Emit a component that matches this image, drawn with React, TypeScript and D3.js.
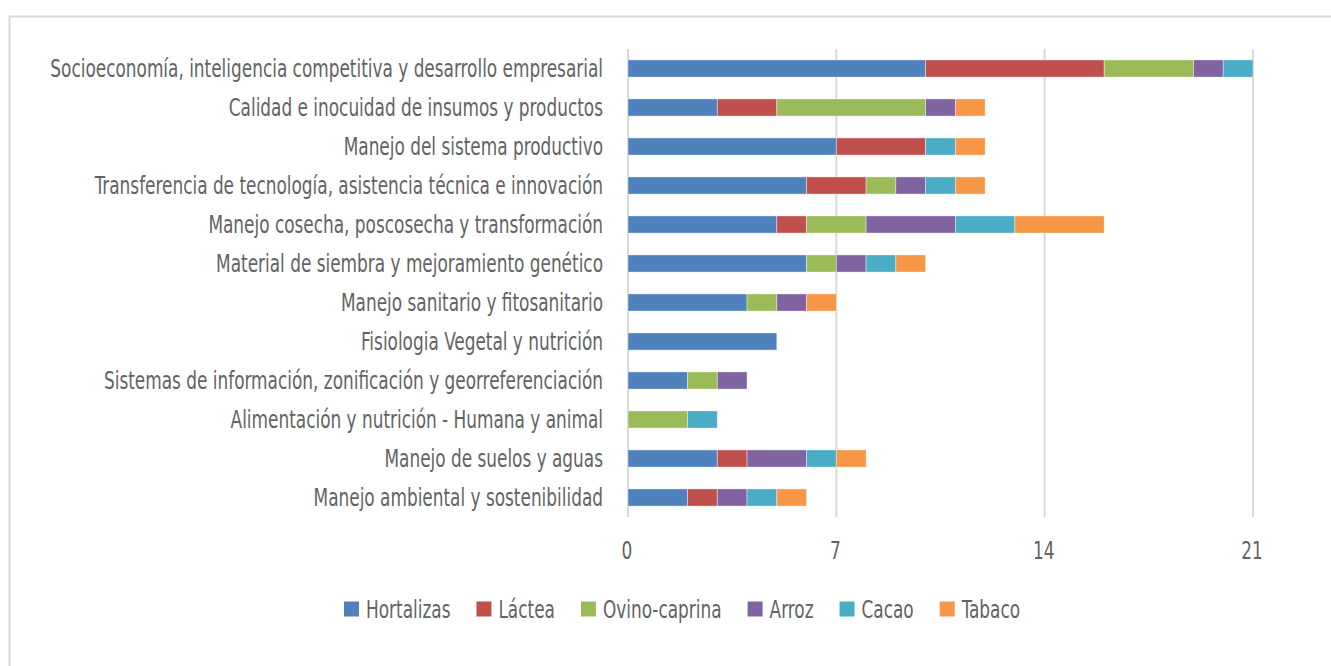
import { useEffect, useRef } from "react";
import * as d3 from "d3";

const categories = [
  "Socioeconomía, inteligencia competitiva y desarrollo empresarial",
  "Calidad e inocuidad de insumos y productos",
  "Manejo del sistema productivo",
  "Transferencia de tecnología, asistencia técnica e innovación",
  "Manejo cosecha, poscosecha y transformación",
  "Material de siembra y mejoramiento genético",
  "Manejo sanitario y fitosanitario",
  "Fisiologia Vegetal y nutrición",
  "Sistemas de información, zonificación y georreferenciación",
  "Alimentación y nutrición - Humana y animal",
  "Manejo de suelos y aguas",
  "Manejo ambiental y sostenibilidad",
];

const seriesNames = ["Hortalizas", "Láctea", "Ovino-caprina", "Arroz", "Cacao", "Tabaco"];
const seriesColors = ["#4F81BD", "#C0504D", "#9BBB59", "#8064A2", "#4BACC6", "#F79646"];

const hortalizas = [10, 3, 7, 6, 5, 6, 4, 5, 2, 0, 3, 2];
const lactea = [6, 2, 3, 2, 1, 0, 0, 0, 0, 0, 1, 1];
const ovinoCaprina = [3, 5, 0, 1, 2, 1, 1, 0, 1, 2, 0, 0];
const arroz = [1, 1, 0, 1, 3, 1, 1, 0, 1, 0, 2, 1];
const cacao = [1, 0, 1, 1, 2, 1, 0, 0, 0, 1, 1, 1];
const tabaco = [0, 1, 1, 1, 3, 1, 1, 0, 0, 0, 1, 1];

const tickValues = [0, 7, 14, 21];

const FONT = "'DejaVu Sans Condensed', 'Liberation Sans Narrow', sans-serif";
const FONT_SIZE = 24;
const TEXT = "#636363";

export default function App() {
  const ref = useRef<SVGSVGElement | null>(null);

  useEffect(() => {
    const svg = d3.select(ref.current);
    svg.selectAll("*").remove();

    const width = 1331;
    const height = 666;
    const x0 = 628;
    const x1 = 1253;

    svg.attr("width", width).attr("height", height).style("display", "block");

    svg.append("rect").attr("width", width).attr("height", height).attr("fill", "white");
    // chart frame, runs off the right and bottom edges
    svg.append("rect")
      .attr("x", 9.5).attr("y", 16.5)
      .attr("width", width + 20).attr("height", height + 20)
      .attr("fill", "none").attr("stroke", "#d9d9d9").attr("stroke-width", 2);

    // the original font is narrower: squeeze text horizontally to match
    const probe = svg.append("text").attr("font-family", FONT).attr("font-size", FONT_SIZE).text(categories[0]);
    const k = 553 / (probe.node() as SVGTextElement).getComputedTextLength();
    probe.remove();

    const label = (
      parent: d3.Selection<any, any, any, any>,
      tx: number,
      ty: number,
      s: string | number,
      anchor: string
    ) => {
      const t = parent.append("g")
        .attr("transform", `translate(${tx},${ty}) scale(${k},1)`)
        .append("text")
        .attr("dy", "0.36em")
        .attr("text-anchor", anchor)
        .attr("font-family", FONT).attr("font-size", FONT_SIZE).attr("fill", TEXT)
        .text(s);
      return (t.node() as SVGTextElement).getComputedTextLength() * k;
    };

    const x = d3.scaleLinear().domain([0, 21]).range([x0, x1]);
    const y = d3.scaleBand<string>().domain(categories).range([49, 517]).paddingInner(0.56).paddingOuter(0.28);

    // gridlines
    svg.append("g")
      .selectAll("line")
      .data(tickValues)
      .join("line")
      .attr("x1", (d) => x(d)).attr("x2", (d) => x(d))
      .attr("y1", 49).attr("y2", 517)
      .attr("stroke", "#d9d9d9").attr("stroke-width", 2);

    const table = categories.map((c, i) => ({
      cat: c,
      Hortalizas: hortalizas[i],
      "Láctea": lactea[i],
      "Ovino-caprina": ovinoCaprina[i],
      Arroz: arroz[i],
      Cacao: cacao[i],
      Tabaco: tabaco[i],
    }));
    const stacked = d3.stack<any>().keys(seriesNames)(table);

    svg.append("g")
      .selectAll("g")
      .data(stacked)
      .join("g")
      .attr("fill", (_d, i) => seriesColors[i])
      .selectAll("rect")
      .data((d) => d.filter((p) => p[1] > p[0]))
      .join("rect")
      .attr("x", (d) => x(d[0]))
      .attr("width", (d) => x(d[1]) - x(d[0]))
      .attr("y", (d) => y(d.data.cat)!)
      .attr("height", y.bandwidth())
      .attr("stroke", "white").attr("stroke-opacity", 0.5).attr("stroke-width", 0.8);

    // category labels
    const labels = svg.append("g");
    categories.forEach((c) => label(labels, 603, y(c)! + y.bandwidth() / 2, c, "end"));

    // tick labels
    const ticks = svg.append("g");
    tickValues.forEach((v) => label(ticks, x(v) - 1, 550, v, "middle"));

    // legend
    const legend = svg.append("g").attr("transform", "translate(0,609)");
    let cx = 344;
    seriesNames.forEach((name, i) => {
      legend.append("rect").attr("x", cx).attr("y", -7.5).attr("width", 15).attr("height", 15).attr("fill", seriesColors[i]);
      const w = label(legend, cx + 22, 0, name, "start");
      cx += 22 + w + 26;
    });
  }, []);

  return <svg ref={ref} style={{ position: "absolute", left: 0, top: 0 }} />;
}
